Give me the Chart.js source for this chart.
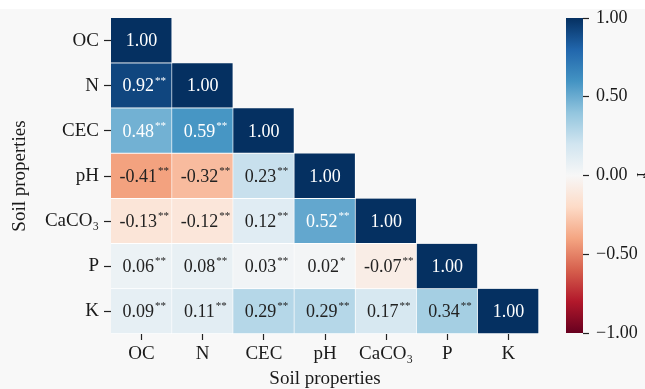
<!DOCTYPE html>
<html>
<head>
<meta charset="utf-8">
<script src="https://cdn.jsdelivr.net/npm/chart.js@4"></script>
<style>
  html, body { margin: 0; padding: 0; background: #f8f8f8; }
  #wrap { position: relative; width: 645px; height: 389px; overflow: hidden; background: #f8f8f8; }
  #topband { position: absolute; left: 0; top: 0; width: 645px; height: 9px; background: #ffffff; }
  #heat { position: absolute; left: 0; top: 0; }
  #cbar { position: absolute; left: 540px; top: 0; }
</style>
</head>
<body>
<div id="wrap">
  <div id="topband"></div>
  <canvas id="heat" width="560" height="389"></canvas>
  <canvas id="cbar" width="115" height="389"></canvas>
</div>
<script>
// Soil property names (rows top to bottom, columns left to right)
const properties = ['OC', 'N', 'CEC', 'pH', 'CaCO₃', 'P', 'K'];

// Lower-triangle Pearson correlation coefficients, one array per row
const rOC    = [1.00];
const rN     = [0.92, 1.00];
const rCEC   = [0.48, 0.59, 1.00];
const rPH    = [-0.41, -0.32, 0.23, 1.00];
const rCaCO3 = [-0.13, -0.12, 0.12, 0.52, 1.00];
const rP     = [0.06, 0.08, 0.03, 0.02, -0.07, 1.00];
const rK     = [0.09, 0.11, 0.29, 0.29, 0.17, 0.34, 1.00];

// Significance markers for each coefficient
const sigOC    = [''];
const sigN     = ['**', ''];
const sigCEC   = ['**', '**', ''];
const sigPH    = ['**', '**', '**', ''];
const sigCaCO3 = ['**', '**', '**', '**', ''];
const sigP     = ['**', '**', '**', '*', '**', ''];
const sigK     = ['**', '**', '**', '**', '**', '**', ''];

// Colour bar tick values
const colorbarTicks = [-1, -0.5, 0, 0.5, 1];

const corrRows = [rOC, rN, rCEC, rPH, rCaCO3, rP, rK];
const sigRows = [sigOC, sigN, sigCEC, sigPH, sigCaCO3, sigP, sigK];

const FONT = "'Liberation Serif', 'Times New Roman', serif";
const INK = '#1a1a1a';

// Diverging red-blue colour map, stops from -1 (red) to +1 (blue)
const rdbu = [
  [103, 0, 31], [178, 24, 43], [214, 96, 77], [244, 165, 130], [253, 219, 199],
  [247, 247, 247], [209, 229, 240], [146, 197, 222], [67, 147, 195], [33, 102, 172], [5, 48, 97]
];
function rdbuColor(v) {
  const t = Math.max(0, Math.min(1, (v + 1) / 2)) * (rdbu.length - 1);
  const i = Math.min(rdbu.length - 2, Math.floor(t));
  const f = t - i;
  const a = rdbu[i], b = rdbu[i + 1];
  const c = a.map((x, k) => Math.round(x + (b[k] - x) * f));
  return `rgb(${c[0]},${c[1]},${c[2]})`;
}

const n = properties.length;

// One floating-bar dataset per row; each cell spans one unit on the y scale
const datasets = corrRows.map((row, i) => ({
  label: properties[i],
  data: properties.map((_, j) => (j < row.length ? [n - 1 - i, n - i] : null)),
  backgroundColor: properties.map((_, j) => (j < row.length ? rdbuColor(row[j]) : 'rgba(0,0,0,0)')),
  borderColor: 'rgba(255,255,255,0.9)',
  borderWidth: { top: 0, left: 0, right: 1, bottom: 1 },
  borderSkipped: false,
  barPercentage: 1,
  categoryPercentage: 1,
  grouped: false
}));

// Writes the coefficient and its significance stars into every cell
const cellLabels = {
  id: 'cellLabels',
  afterDatasetsDraw(chart) {
    const ctx = chart.ctx;
    ctx.save();
    ctx.textBaseline = 'middle';
    ctx.textAlign = 'left';
    corrRows.forEach((row, i) => {
      const meta = chart.getDatasetMeta(i);
      row.forEach((v, j) => {
        const el = meta.data[j];
        if (!el) return;
        const cx = el.x;
        const cy = (el.y + el.base) / 2;
        const txt = v.toFixed(2);
        const stars = sigRows[i][j];
        ctx.font = `18px ${FONT}`;
        const w = ctx.measureText(txt).width;
        ctx.font = `11px ${FONT}`;
        const sw = stars ? ctx.measureText(stars).width : 0;
        const color = Math.abs(v) > 0.45 ? '#ffffff' : '#222222';
        ctx.fillStyle = color;
        const x0 = cx - w / 2 - sw * 0.3;
        ctx.font = `18px ${FONT}`;
        ctx.fillText(txt, x0, cy + 1);
        if (stars) {
          ctx.font = `11px ${FONT}`;
          ctx.fillText(stars, x0 + w + 1, cy - 5);
        }
      });
    });
    ctx.restore();
  }
};

new Chart(document.getElementById('heat'), {
  type: 'bar',
  data: { labels: properties, datasets },
  options: {
    responsive: false,
    animation: false,
    layout: { padding: { top: 18, right: 21, left: 0, bottom: 0 } },
    plugins: { legend: { display: false }, tooltip: { enabled: false } },
    scales: {
      x: {
        type: 'category',
        offset: true,
        grid: { offset: false, drawOnChartArea: false, tickLength: 6, tickColor: '#222', tickWidth: 1.2 },
        border: { display: false },
        ticks: { color: INK, font: { family: FONT, size: 19 }, padding: 3, maxRotation: 0, autoSkip: false },
        title: { display: true, text: 'Soil properties', color: INK, font: { family: FONT, size: 19, lineHeight: 1 }, padding: 0 },
        afterFit(s) { s.height = 55; }
      },
      y: {
        type: 'linear',
        min: 0,
        max: n,
        afterBuildTicks(s) { s.ticks = properties.map((_, k) => ({ value: k + 0.5 })); },
        ticks: {
          color: INK,
          font: { family: FONT, size: 19 },
          padding: 5,
          callback: (v) => properties[Math.round(n - 0.5 - v)]
        },
        grid: { drawOnChartArea: false, tickLength: 7, tickColor: '#222', tickWidth: 1.2 },
        border: { display: false },
        title: { display: true, text: 'Soil properties', color: INK, font: { family: FONT, size: 19, lineHeight: 1 }, padding: { top: 11, bottom: 0 } },
        afterFit(s) { s.width = 111; }
      }
    }
  },
  plugins: [cellLabels]
});

// Colour bar: a single floating bar from -1 to 1 filled with the colour map
function barGradient(context) {
  const chart = context.chart;
  const area = chart.chartArea;
  if (!area) return rdbuColor(0);
  const ys = chart.scales.y;
  const g = chart.ctx.createLinearGradient(0, ys.getPixelForValue(-1), 0, ys.getPixelForValue(1));
  rdbu.forEach((c, k) => g.addColorStop(k / (rdbu.length - 1), `rgb(${c[0]},${c[1]},${c[2]})`));
  return g;
}

new Chart(document.getElementById('cbar'), {
  type: 'bar',
  data: {
    labels: [''],
    datasets: [{
      data: [[colorbarTicks[0], colorbarTicks[colorbarTicks.length - 1]]],
      backgroundColor: barGradient,
      borderWidth: 0,
      barPercentage: 1,
      categoryPercentage: 1
    }]
  },
  options: {
    responsive: false,
    animation: false,
    layout: { padding: { left: 26, top: 18, bottom: 56, right: 0 } },
    plugins: { legend: { display: false }, tooltip: { enabled: false } },
    scales: {
      x: { display: false },
      y: {
        position: 'right',
        min: -1,
        max: 1,
        afterBuildTicks(s) { s.ticks = colorbarTicks.map(v => ({ value: v })); },
        ticks: {
          color: INK,
          font: { family: FONT, size: 18 },
          padding: 7,
          callback: (v) => (v < 0 ? '−' : '') + Math.abs(v).toFixed(2)
        },
        grid: { drawOnChartArea: false, tickLength: 6, tickColor: '#222', tickWidth: 1.2 },
        border: { display: false },
        title: { display: true, text: 'r', color: INK, font: { family: FONT, size: 16, lineHeight: 1 }, padding: { top: 6, bottom: 0 } },
        afterFit(s) { s.width = 72; }
      }
    }
  }
});
</script>
</body>
</html>
